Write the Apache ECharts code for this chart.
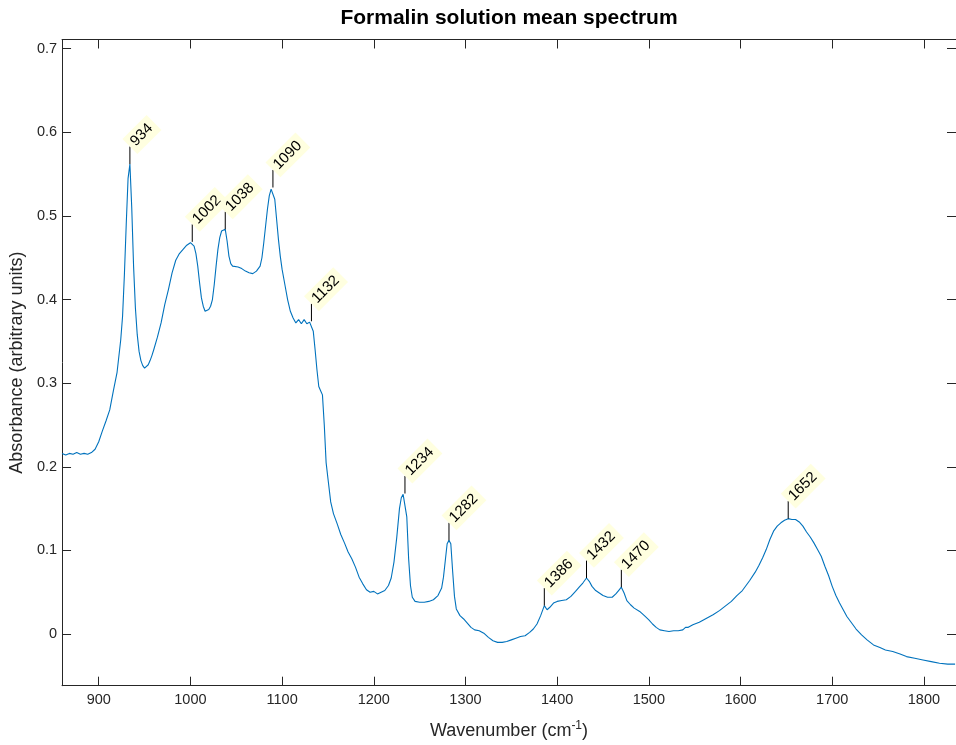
<!DOCTYPE html>
<html>
<head>
<meta charset="utf-8">
<script src="https://cdn.jsdelivr.net/npm/echarts@6/dist/echarts.min.js"></script>
<style>
  html, body { margin: 0; padding: 0; background: #fff; }
  #chart { width: 956px; height: 745px; }
</style>
</head>
<body>
<div id="chart"></div>
<script>
// Mean spectrum of the formalin solution: wavenumber (cm^-1) and absorbance
const wavenumbers = [
  860, 864, 868, 872, 876, 880, 884, 888, 892, 896, 900, 904, 908, 912, 916, 920, 924, 926, 928, 930,
  932, 934, 936, 938, 940, 942, 944, 946, 948, 950, 952, 954, 956, 958, 960, 964, 968, 972, 976, 980,
  984, 988, 992, 996, 1000, 1002, 1004, 1006, 1008, 1010, 1012, 1014, 1016, 1018, 1020, 1022, 1024, 1026, 1028, 1030,
  1032, 1034, 1036, 1038, 1040, 1042, 1044, 1046, 1048, 1052, 1056, 1060, 1064, 1068, 1072, 1076, 1078, 1080, 1082, 1084,
  1086, 1088, 1090, 1092, 1094, 1096, 1098, 1100, 1103, 1106, 1109, 1112, 1115, 1118, 1121, 1124, 1127, 1130, 1132, 1134,
  1136, 1138, 1140, 1142, 1144, 1146, 1148, 1150, 1153, 1156, 1160, 1164, 1168, 1172, 1176, 1180, 1184, 1188, 1192, 1196,
  1200, 1204, 1208, 1212, 1216, 1219, 1222, 1225, 1228, 1230, 1232, 1234, 1236, 1238, 1240, 1242, 1245, 1250, 1255, 1260,
  1265, 1270, 1274, 1276, 1278, 1280, 1282, 1284, 1286, 1288, 1290, 1294, 1298, 1302, 1306, 1310, 1315, 1320, 1325, 1330,
  1335, 1340, 1345, 1350, 1355, 1360, 1365, 1370, 1374, 1378, 1382, 1386, 1389, 1392, 1396, 1400, 1405, 1410, 1415, 1420,
  1424, 1428, 1432, 1435, 1438, 1442, 1446, 1450, 1455, 1460, 1464, 1467, 1470, 1473, 1476, 1480, 1484, 1490, 1496, 1500,
  1504, 1508, 1512, 1517, 1522, 1527, 1532, 1537, 1540, 1543, 1548, 1555, 1560, 1565, 1570, 1577, 1584, 1590, 1596, 1602,
  1606, 1610, 1616, 1620, 1624, 1628, 1632, 1636, 1640, 1644, 1648, 1652, 1656, 1660, 1664, 1668, 1672, 1676, 1680, 1684,
  1688, 1692, 1696, 1700, 1704, 1708, 1712, 1716, 1720, 1726, 1732, 1738, 1745, 1752, 1758, 1766, 1774, 1781, 1790, 1799,
  1808, 1817, 1826, 1834
];
const absorbance = [
  0.216, 0.214, 0.216, 0.215, 0.217, 0.215, 0.216, 0.215, 0.217, 0.221, 0.230, 0.243, 0.255, 0.268, 0.291, 0.313, 0.352, 0.380, 0.430, 0.490,
  0.545, 0.562, 0.510, 0.440, 0.390, 0.358, 0.338, 0.327, 0.321, 0.318, 0.318, 0.322, 0.327, 0.333, 0.340, 0.355, 0.372, 0.394, 0.412, 0.432,
  0.447, 0.455, 0.460, 0.465, 0.468, 0.469, 0.464, 0.455, 0.440, 0.420, 0.402, 0.392, 0.386, 0.385, 0.388, 0.392, 0.400, 0.418, 0.440, 0.460,
  0.474, 0.482, 0.482, 0.484, 0.470, 0.452, 0.443, 0.440, 0.438, 0.439, 0.437, 0.434, 0.432, 0.431, 0.434, 0.440, 0.450, 0.468, 0.488, 0.508,
  0.524, 0.532, 0.534, 0.520, 0.496, 0.472, 0.452, 0.436, 0.418, 0.400, 0.386, 0.378, 0.372, 0.376, 0.371, 0.376, 0.371, 0.373, 0.374, 0.362,
  0.340, 0.316, 0.296, 0.291, 0.286, 0.250, 0.205, 0.186, 0.158, 0.144, 0.132, 0.119, 0.109, 0.098, 0.090, 0.080, 0.068, 0.060, 0.053, 0.050,
  0.051, 0.048, 0.050, 0.052, 0.058, 0.067, 0.086, 0.115, 0.150, 0.163, 0.167, 0.168, 0.140, 0.090, 0.058, 0.044, 0.039, 0.038, 0.038, 0.039,
  0.041, 0.046, 0.055, 0.068, 0.088, 0.108, 0.112, 0.108, 0.075, 0.045, 0.030, 0.022, 0.018, 0.013, 0.008, 0.005, 0.004, 0.001, -0.004, -0.008,
  -0.010, -0.010, -0.009, -0.007, -0.005, -0.003, -0.002, 0.002, 0.006, 0.012, 0.022, 0.034, 0.029, 0.032, 0.037, 0.039, 0.040, 0.041, 0.045, 0.051,
  0.056, 0.061, 0.067, 0.063, 0.057, 0.052, 0.049, 0.046, 0.044, 0.044, 0.048, 0.052, 0.056, 0.049, 0.040, 0.035, 0.031, 0.027, 0.021, 0.017,
  0.012, 0.008, 0.005, 0.004, 0.003, 0.004, 0.004, 0.005, 0.008, 0.008, 0.011, 0.014, 0.017, 0.020, 0.023, 0.028, 0.034, 0.039, 0.046, 0.052,
  0.058, 0.064, 0.074, 0.082, 0.091, 0.101, 0.113, 0.123, 0.129, 0.133, 0.136, 0.138, 0.137, 0.137, 0.134, 0.129, 0.122, 0.116, 0.109, 0.101,
  0.093, 0.081, 0.070, 0.057, 0.046, 0.037, 0.029, 0.021, 0.015, 0.006, -0.001, -0.007, -0.013, -0.016, -0.019, -0.021, -0.024, -0.027, -0.029, -0.031,
  -0.033, -0.035, -0.036, -0.036
];

// Annotated band positions (cm^-1)
const peakWavenumbers = [934, 1002, 1038, 1090, 1132, 1234, 1282, 1386, 1432, 1470, 1652];

// Axis tick values
const xTicks = [900, 1000, 1100, 1200, 1300, 1400, 1500, 1600, 1700, 1800];
const yTicks = [0, 0.1, 0.2, 0.3, 0.4, 0.5, 0.6, 0.7];

const FONT = 'Liberation Sans, Arial, Helvetica, sans-serif';
const STEM = 0.021; // stem height of each annotation, in absorbance units

const spectrum = wavenumbers.map((w, i) => [w, absorbance[i]]);
const peaks = peakWavenumbers.map(w => [w, absorbance[wavenumbers.indexOf(w)]]);

const xRange = { min: 860, max: 1835 };
const yRange = { min: -0.0618, max: 0.711 };
const GRID = { left: 62, right: 0, top: 39.5, bottom: 59.3 };

const chart = echarts.init(document.getElementById('chart'), null, { renderer: 'canvas' });

const baseX = {
  type: 'value',
  min: xRange.min,
  max: xRange.max,
  splitLine: { show: false },
  axisLine: { show: true, onZero: false, lineStyle: { color: '#262626', width: 1 } },
  axisTick: { show: true, inside: true, length: 9, customValues: xTicks, lineStyle: { color: '#262626' } }
};
const baseY = {
  type: 'value',
  min: yRange.min,
  max: yRange.max,
  splitLine: { show: false },
  axisLine: { show: true, onZero: false, lineStyle: { color: '#262626', width: 1 } },
  axisTick: { show: true, inside: true, length: 9, customValues: yTicks, lineStyle: { color: '#262626' } }
};

chart.setOption({
  animation: false,
  backgroundColor: '#fff',
  // title centred over the plotting box
  graphic: [{
    type: 'text',
    x: GRID.left + (956 - GRID.left - GRID.right) / 2,
    y: 18,
    style: {
      text: 'Formalin solution mean spectrum',
      align: 'center',
      verticalAlign: 'middle',
      fontFamily: FONT,
      fontSize: 21,
      fontWeight: 'bold',
      fill: '#000'
    }
  }],
  grid: { left: GRID.left, right: GRID.right, top: GRID.top, bottom: GRID.bottom, containLabel: false },
  xAxis: [
    Object.assign({}, baseX, {
      position: 'bottom',
      axisLabel: {
        show: true, customValues: xTicks, margin: 7,
        fontFamily: FONT, fontSize: 14.5, color: '#262626',
        formatter: v => String(v)
      },
      name: 'Wavenumber (cm{sup|-1})',
      nameLocation: 'middle',
      nameGap: 34,
      nameTextStyle: {
        fontFamily: FONT, fontSize: 18, color: '#262626',
        rich: { sup: { fontFamily: FONT, fontSize: 12, color: '#262626', padding: [0, 0, 10, 0] } }
      }
    }),
    Object.assign({}, baseX, { position: 'top', axisLabel: { show: false } })
  ],
  yAxis: [
    Object.assign({}, baseY, {
      position: 'left',
      axisLabel: {
        show: true, customValues: yTicks, margin: 5,
        fontFamily: FONT, fontSize: 14.5, color: '#262626',
        formatter: v => (v === 0 ? '0' : v.toFixed(1))
      },
      name: 'Absorbance (arbitrary units)',
      nameLocation: 'middle',
      nameRotate: 90,
      nameGap: 35,
      nameTextStyle: { fontFamily: FONT, fontSize: 18, color: '#262626' }
    }),
    Object.assign({}, baseY, { position: 'right', axisLabel: { show: false } })
  ],
  series: [
    {
      type: 'line',
      data: spectrum,
      showSymbol: false,
      symbol: 'none',
      smooth: false,
      lineStyle: { color: '#0072BD', width: 1.1 },
      silent: true,
      z: 2
    },
    {
      // stems and tilted labels marking each band
      type: 'custom',
      data: peaks,
      clip: false,
      z: 3,
      renderItem: (params, api) => {
        const w = api.value(0);
        const a = api.value(1);
        const p0 = api.coord([w, a]);
        const p1 = api.coord([w, a + STEM]);
        return {
          type: 'group',
          children: [
            {
              type: 'line',
              shape: { x1: p0[0], y1: p0[1], x2: p1[0], y2: p1[1] },
              style: { stroke: '#000', lineWidth: 1 }
            },
            {
              type: 'text',
              x: p1[0],
              y: p1[1],
              rotation: Math.PI / 4,
              style: {
                text: String(w),
                align: 'left',
                verticalAlign: 'middle',
                fontFamily: FONT,
                fontSize: 15,
                fill: '#000',
                backgroundColor: '#FFFFE0',
                padding: [3, 5, 3, 4]
              }
            }
          ]
        };
      }
    }
  ]
});
</script>
</body>
</html>
